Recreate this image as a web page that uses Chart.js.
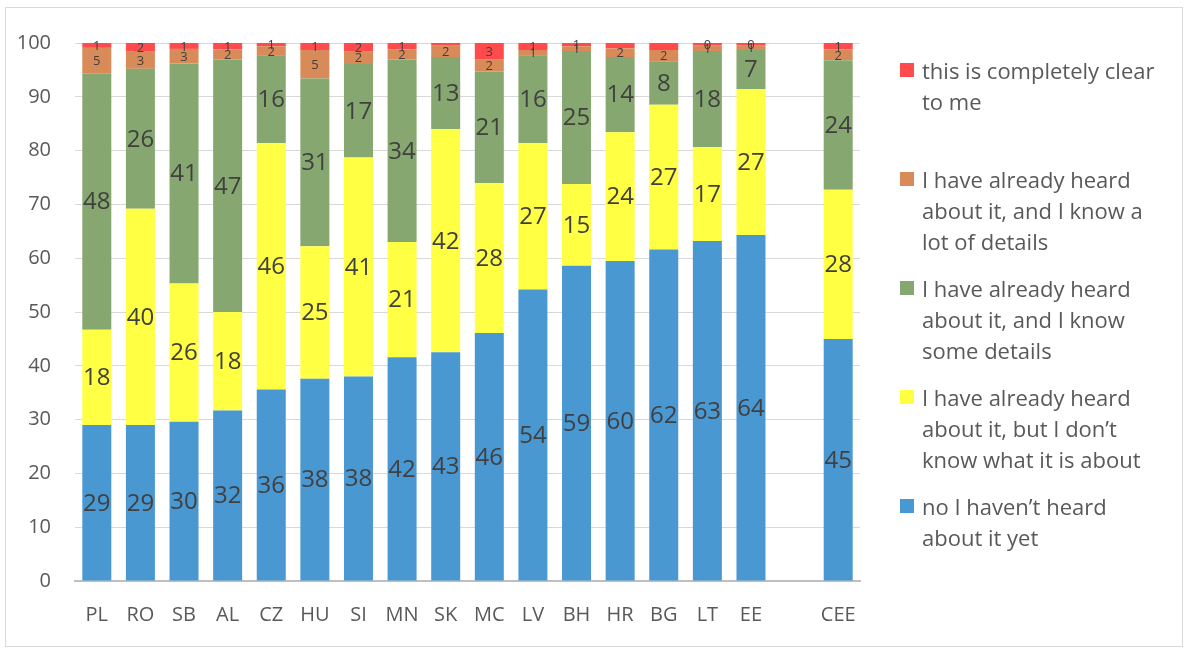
<!DOCTYPE html>
<html>
<head>
<meta charset="utf-8">
<script src="https://cdn.jsdelivr.net/npm/chart.js@4"></script>
<style>
  body { margin: 0; background: #fff; }
  #wrap { position: relative; width: 1185px; height: 648px; }
  #frame { position: absolute; left: 5px; top: 7px; width: 1178px; height: 640px; border: 1px solid #d9d9d9; box-sizing: border-box; }
  canvas { position: absolute; left: 0; top: 0; }
  #legend { position: absolute; left: 900px; top: 55px; font-family: "Open Sans", sans-serif; font-size: 22px; color: #595959; }
  .item { position: relative; height: 109px; padding-left: 22px; line-height: 31px; white-space: nowrap; }
  .sw { position: absolute; left: 0; top: 8px; width: 14px; height: 14px; }
</style>
</head>
<body>
<div id="wrap">
  <div id="frame"></div>
  <canvas id="c" width="1185" height="648"></canvas>
  <div id="legend"></div>
</div>
<script>
const countries = ['PL', 'RO', 'SB', 'AL', 'CZ', 'HU', 'SI', 'MN', 'SK', 'MC', 'LV', 'BH', 'HR', 'BG', 'LT', 'EE', '', 'CEE'];

const notHeard = [29.0, 29.0, 29.6, 31.7, 35.6, 37.6, 38.0, 41.6, 42.5, 46.1, 54.2, 58.6, 59.5, 61.6, 63.2, 64.3, null, 45.0];
const heardNoIdea = [17.7, 40.2, 25.7, 18.3, 45.8, 24.6, 40.7, 21.4, 41.5, 27.9, 27.2, 15.2, 23.9, 26.9, 17.4, 27.1, null, 27.7];
const someDetails = [47.7, 26.0, 40.9, 46.9, 16.3, 31.2, 17.4, 33.9, 13.4, 20.7, 16.3, 24.7, 14.0, 8.1, 17.9, 7.3, null, 24.1];
const lotDetails = [4.7, 3.3, 2.7, 1.9, 1.7, 5.3, 2.4, 1.9, 2.2, 2.2, 1.0, 0.9, 1.6, 2.1, 1.1, 0.9, null, 2.0];
const clear = [0.9, 1.5, 1.1, 1.2, 0.6, 1.3, 1.5, 1.2, 0.4, 3.1, 1.3, 0.6, 1.0, 1.3, 0.4, 0.4, null, 1.2];

// red labels that are not shown in the original
const clearNoLabel = ['SK', 'HR', 'BG'];

const yTicks = [0, 10, 20, 30, 40, 50, 60, 70, 80, 90, 100];

const series = [
  { label: 'no I haven\u2019t heard about it yet', lines: ['no I haven\u2019t heard', 'about it yet'], data: notHeard, color: '#4a98d2', big: true },
  { label: 'I have already heard about it, but I don\u2019t know what it is about', lines: ['I have already heard', 'about it, but I don\u2019t', 'know what it is about'], data: heardNoIdea, color: '#ffff44', big: true },
  { label: 'I have already heard about it, and I know some details', lines: ['I have already heard', 'about it, and I know', 'some details'], data: someDetails, color: '#86a770', big: true },
  { label: 'I have already heard about it, and I know a lot of details', lines: ['I have already heard', 'about it, and I know a', 'lot of details'], data: lotDetails, color: '#d88b58', big: false },
  { label: 'this is completely clear to me', lines: ['this is completely clear', 'to me'], data: clear, color: '#ff4b4b', big: false, skip: clearNoLabel },
];

// legend, top entry first
const legend = document.getElementById('legend');
series.slice().reverse().forEach(s => {
  const div = document.createElement('div');
  div.className = 'item';
  const sw = document.createElement('span');
  sw.className = 'sw';
  sw.style.background = s.color;
  div.appendChild(sw);
  s.lines.forEach((t, i) => {
    if (i) div.appendChild(document.createElement('br'));
    div.appendChild(document.createTextNode(t));
  });
  legend.appendChild(div);
});

const segLabels = {
  id: 'segLabels',
  afterDatasetsDraw(chart) {
    const ctx = chart.ctx;
    chart.data.datasets.forEach((ds, di) => {
      const s = series[di];
      const meta = chart.getDatasetMeta(di);
      meta.data.forEach((bar, i) => {
        const v = ds.data[i];
        if (v == null) return;
        if (s.skip && s.skip.includes(countries[i])) return;
        const { x, y, base } = bar.getProps(['x', 'y', 'base'], true);
        ctx.save();
        ctx.font = (s.big ? '24px' : '13px') + ' "Open Sans", sans-serif';
        ctx.fillStyle = '#404040';
        ctx.textAlign = 'center';
        ctx.textBaseline = 'middle';
        ctx.fillText(String(Math.round(v)), x, (y + base) / 2 + 1);
        ctx.restore();
      });
    });
  }
};

new Chart(document.getElementById('c'), {
  type: 'bar',
  data: {
    labels: countries,
    datasets: series.map(s => ({
      label: s.label,
      data: s.data,
      backgroundColor: s.color,
      borderWidth: 0,
      barPercentage: 0.665,
      categoryPercentage: 1,
    })),
  },
  options: {
    responsive: false,
    animation: false,
    layout: { padding: { top: 43, right: 325, bottom: 0, left: 0 } },
    plugins: {
      legend: { display: false },
      tooltip: { enabled: false },
    },
    scales: {
      x: {
        stacked: true,
        grid: { display: false, drawTicks: false },
        border: { display: true, color: '#bfbfbf', width: 2 },
        ticks: { color: '#595959', font: { family: 'Open Sans', size: 20 }, padding: 22, maxRotation: 0 },
        afterFit(scale) { scale.height = 67; },
      },
      y: {
        stacked: true,
        min: 0,
        max: 100,
        afterBuildTicks(scale) { scale.ticks = yTicks.map(v => ({ value: v })); },
        grid: { color: '#d9d9d9', lineWidth: 1, drawTicks: false },
        border: { display: false },
        ticks: { color: '#595959', font: { family: 'Open Sans', size: 20 }, padding: 24 },
        afterFit(scale) { scale.width = 75; },
      },
    },
  },
  plugins: [segLabels],
});
</script>
</body>
</html>
